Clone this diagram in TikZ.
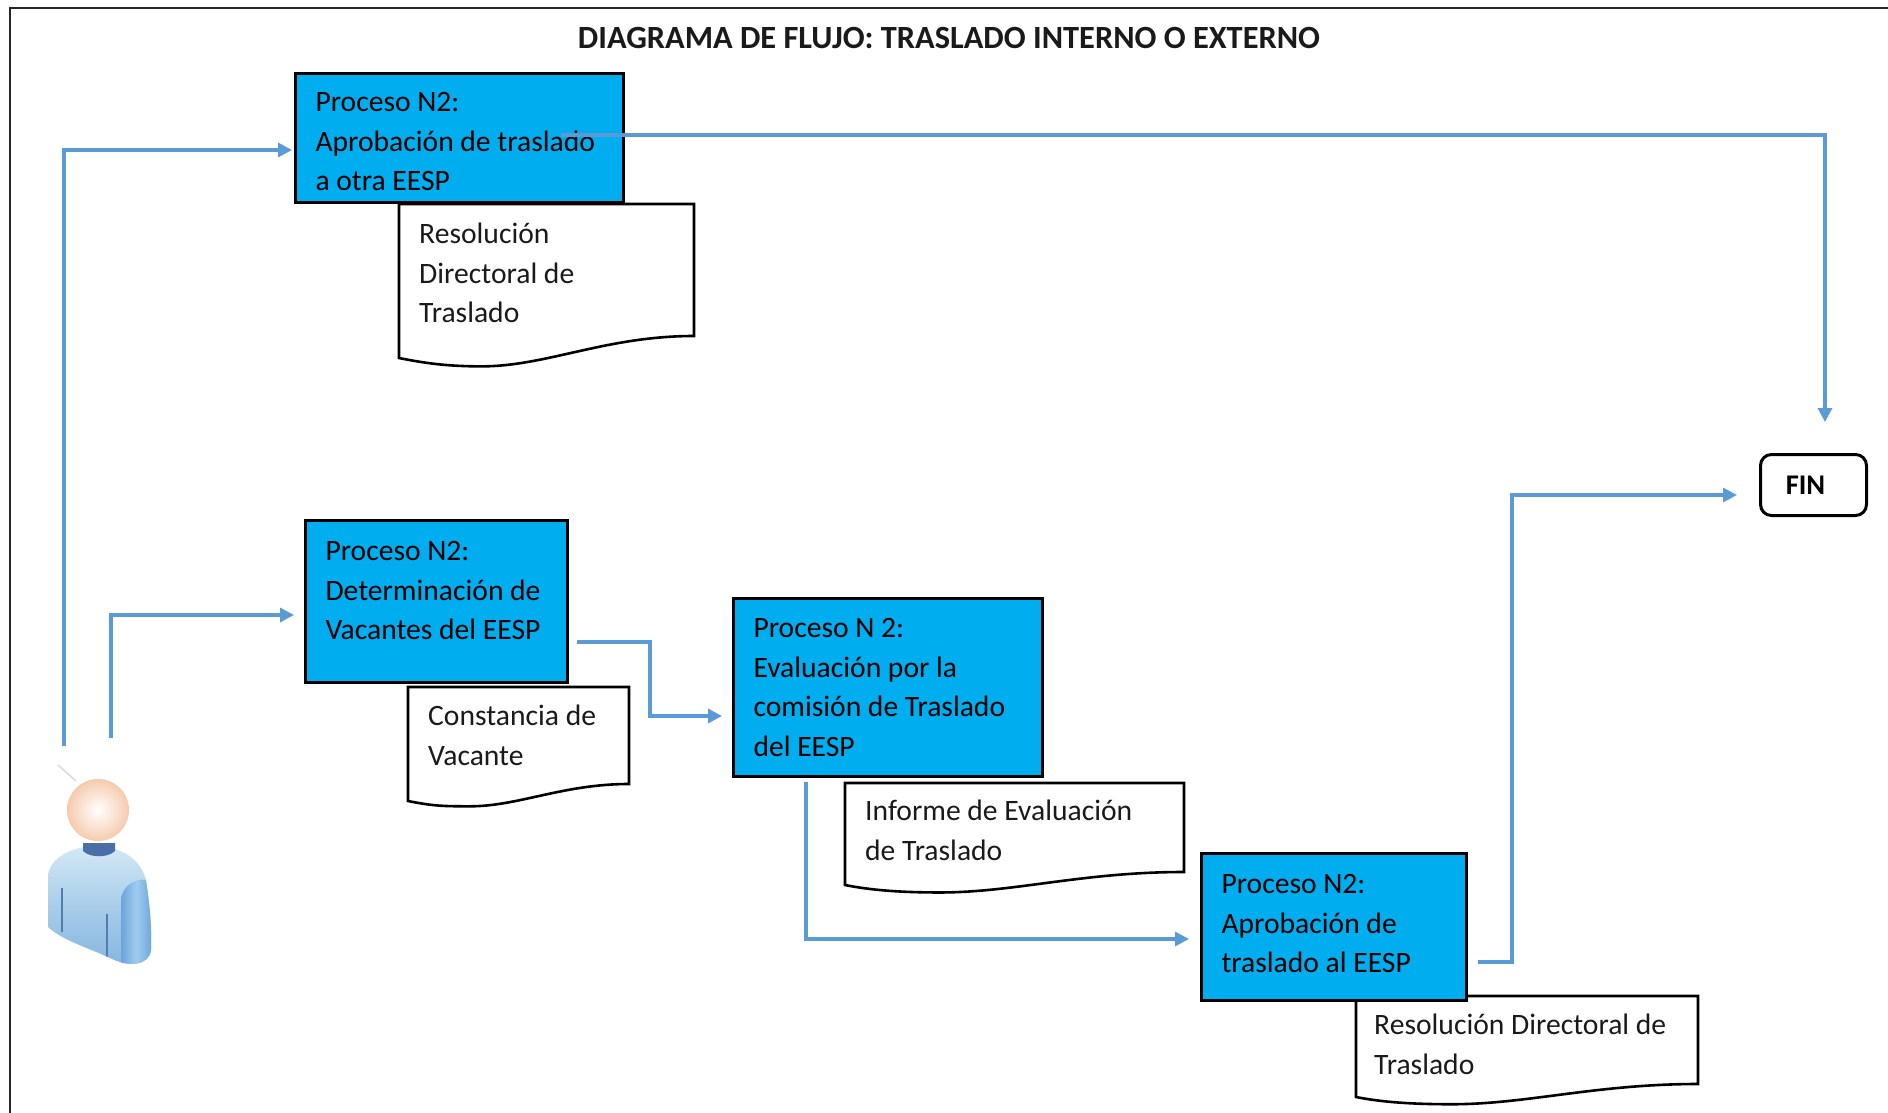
\documentclass[tikz,border=0pt]{standalone}
\usepackage{fontspec}
\setmainfont{Carlito}
\usetikzlibrary{arrows.meta,calc}
\definecolor{procblue}{HTML}{00AEEF}
\definecolor{flowblue}{HTML}{5B9BD5}
\definecolor{inkdark}{HTML}{1A1A1A}
\definecolor{bodylight}{HTML}{D3E9F6}
\definecolor{bodymid}{HTML}{A9CDE9}
\definecolor{bodydeep}{HTML}{86B6E0}
\definecolor{sleevedeep}{HTML}{6BA5DA}
\definecolor{sleevelight}{HTML}{A0CBEE}
\definecolor{creaselin}{HTML}{4F7FB0}
\definecolor{collar}{HTML}{4A6FA8}
\definecolor{headouter}{HTML}{F6CBAE}
\newcommand{\celltext}[4]{\parbox[c][#2pt][t]{#1pt}{\vspace*{#3pt}\leftskip=20pt\parindent=0pt\baselineskip=39.5pt\lineskip=0pt #4\par}}
\newcommand{\docline}[5]{%
  \pgfmathsetmacro{\dw}{#2-#1}
  \pgfmathsetmacro{\cA}{#2-0.30*\dw}
  \pgfmathsetmacro{\cB}{#2-0.50*\dw}
  \pgfmathsetmacro{\cC}{#2-0.72*\dw}
  \pgfmathsetmacro{\cD}{#2-0.84*\dw}
  \pgfmathsetmacro{\dip}{#4+(#4-#3)*0.23}
  \draw[docedge] (#1,#5) -- (#1,#3) -- (#2,#3) -- (#2,#4)
    .. controls (\cA,#4) and (\cB,\dip) .. (\cC,\dip)
    .. controls (\cD,\dip) and (#1+25,#5+5) .. (#1,#5) -- cycle;}
\tikzset{
  procbox/.style={draw=black,line width=3pt,fill=procblue,inner sep=0pt,anchor=north west,text=black,font=\fontsize{29.6}{39}\selectfont},
  docbox/.style={inner sep=0pt,anchor=north west,text=inkdark,font=\fontsize{29.6}{39}\selectfont},
  docedge/.style={draw=black,line width=2.6pt,fill=white,line join=miter},
  flow/.style={draw=flowblue,line width=3.2pt,-{Triangle[length=14pt,width=14pt]}},
  endbox/.style={draw=black,line width=3pt,rounded corners=11pt,fill=white,inner sep=0pt,minimum width=106pt,minimum height=61pt,anchor=north west},
}
\begin{document}
\begin{tikzpicture}[x=1pt,y=-1pt]
\useasboundingbox (0,0) rectangle (1888,1113);
\fill[white] (0,0) rectangle (1888,1113);
\draw[line width=2pt,draw=black!85] (10,1113) -- (10,8) -- (1888,8);
\node[anchor=center,font=\fontsize{32.4}{38}\selectfont\bfseries,text=inkdark] (title) at (949,38) {DIAGRAMA DE FLUJO: TRASLADO INTERNO O EXTERNO};

% documents
\docline{399}{694}{204}{336}{358}
\node[docbox] (doc1) at (399,203) {\celltext{295}{164}{20}{Resolución\\Directoral de\\Traslado}};
\docline{408}{629}{687}{784}{801}
\node[docbox] (doc2) at (408,686) {\celltext{221}{121}{19}{Constancia de\\Vacante}};
\docline{845}{1184}{783}{872}{885}
\node[docbox] (doc3) at (845,782) {\celltext{339}{110}{18}{Informe de Evaluación\\de Traslado}};
\docline{1356}{1698}{996}{1084}{1097}
\node[docbox] (doc4) at (1354,994) {\celltext{342}{108}{20}{Resolución Directoral de\\Traslado}};

% process boxes
\node[procbox] (box1) at (294,72) {\celltext{328}{129}{19}{Proceso N2:\\Aprobación de traslado\\a otra EESP}};
\node[procbox] (box2) at (304,519) {\celltext{262}{162}{21}{Proceso N2:\\Determinación de\\Vacantes del EESP}};
\node[procbox] (box3) at (732,597) {\celltext{309}{178}{20}{Proceso N 2:\\Evaluación por la\\comisión de Traslado\\del EESP}};
\node[procbox] (box4) at (1200,852) {\celltext{265}{147}{21}{Proceso N2:\\Aprobación de\\traslado al EESP}};

\node[endbox,font=\fontsize{28.5}{32}\selectfont\bfseries,text=black] (fin) at (1759,453) {\raisebox{-1pt}{\hspace*{-16pt}FIN}};

% person
\node[inner sep=0pt,minimum width=130pt,minimum height=212pt] (person) at (97,869) {};
\draw[black!14,line width=1.6pt] (58,765) -- (76,781);
\begin{scope}
  \path[clip] (48,875) .. controls (50,858) and (72,846) .. (96,846)
    .. controls (120,846) and (140,858) .. (146,880)
    .. controls (149,900) and (152,925) .. (151,950)
    .. controls (149,966) and (128,968) .. (108,957)
    .. controls (88,948) and (62,940) .. (48,927) -- cycle;
  \shade[top color=bodylight,bottom color=bodydeep,middle color=bodymid] (40,846) rectangle (160,965);
  \draw[creaselin,line width=1.5pt] (62,888) -- (62,932);
  \draw[creaselin,line width=1.5pt] (107,914) -- (107,958);
  \begin{scope}
    \path[clip] (121,965) -- (121,900) .. controls (122,886) and (135,878) .. (146,880) -- (155,880) -- (155,970) -- cycle;
    \shade[left color=sleevedeep,right color=sleevedeep,middle color=sleevelight] (121,876) rectangle (152,970);
  \end{scope}
\end{scope}
\fill[collar] (83,843) -- (115,843) -- (115,851) .. controls (108,858) and (90,858) .. (83,851) -- cycle;
\shade[inner color=white,outer color=headouter] (98,810) circle (31);

% connectors
\draw[flow] ([xshift=-33,yshift=17]person.north) |- ([xshift=-2,yshift=-12]box1.west);
\draw[flow] ([xshift=14,yshift=25]person.north) |- ([xshift=-10,yshift=-13.5]box2.west);
\draw[flow] ([xshift=8,yshift=-40.5]box2.east) -- ++(73,0) |- ([xshift=-10,yshift=-28.5]box3.west);
\draw[flow] ([xshift=74,yshift=-4]box3.south west) |- ([xshift=-11,yshift=-12]box4.west);
\draw[flow] ([xshift=10,yshift=-35]box4.east) -- ++(34,0) |- ([xshift=-22,yshift=-10]fin.west);
\draw[flow] ([xshift=-64,yshift=3]box1.east) -| ([xshift=11.5,yshift=31]fin.north);
\end{tikzpicture}
\end{document}
